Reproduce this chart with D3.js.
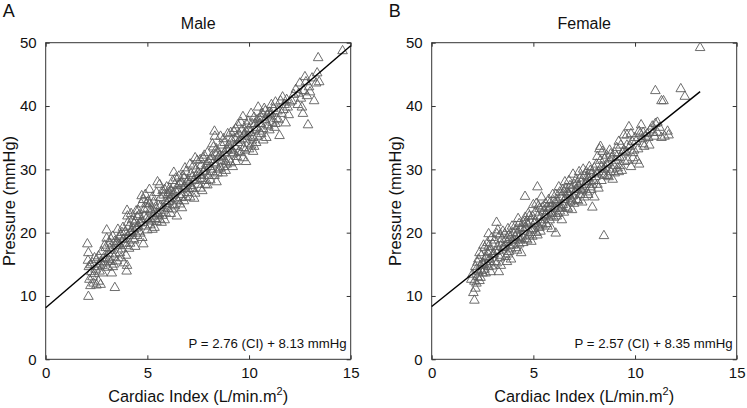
<!DOCTYPE html>
<html><head><meta charset="utf-8">
<script src="https://cdn.jsdelivr.net/npm/d3@7"></script>
<style>
html,body{margin:0;padding:0;background:#fff;}
svg text{font-family:"Liberation Sans",Arial,Helvetica,sans-serif;fill:#111;}
</style></head>
<body>
<svg id="chart" width="747" height="408"></svg>
<script>
const xTicks = [0, 5, 10, 15];
const yTicks = [0, 10, 20, 30, 40, 50];
const panelLetters = ["A", "B"];
const panelTitles = ["Male", "Female"];
const xTitle = "Cardiac Index (L/min.m";
const yTitle = "Pressure (mmHg)";
const equations = ["P = 2.76 (CI) + 8.13 mmHg", "P = 2.57 (CI) + 8.35 mmHg"];
const slopes = [2.76, 2.57];
const intercepts = [8.13, 8.35];
const lineXRange = [[0, 15], [0, 13.2]];

const malePoints = [
[2.05,18.2],[2.1,16.8],[2.08,15.6],[2.12,14.6],[2.15,12.6],[2.2,11.6],[2.1,9.9],[2.25,13.8],[2.3,15.2],[2.35,12.0],[2.4,16.0],[2.45,14.2],[2.5,11.7],[2.3,13.0],[2.2,14.9],[2.4,13.5],[2.5,15.7],
[2.55,14.6],[2.6,16.3],[2.65,13.9],[2.7,15.4],[2.75,17.0],[2.8,14.8],[2.85,16.0],[2.9,15.2],[2.95,17.6],[3.0,20.4],[3.0,19.1],[2.6,12.3],[2.7,11.8],[2.8,13.6],[2.9,18.0],[3.05,14.5],[2.95,15.9],[2.65,15.0],
[3.1,16.7],[3.15,18.3],[3.2,15.4],[3.25,17.2],[3.3,19.4],[3.35,16.1],[3.4,11.3],[3.45,17.9],[3.5,15.5],[3.2,19.0],[3.3,14.6],[3.4,18.6],[3.15,17.5],[3.5,18.5],[3.35,15.0],[3.45,16.6],[3.25,13.6],[3.1,15.7],
[3.55,20.5],[3.6,18.2],[3.65,16.8],[3.7,19.6],[3.75,17.4],[3.8,18.9],[3.85,15.2],[3.9,20.1],[3.95,17.9],[4.0,23.5],[4.02,22.6],[3.98,13.9],[4.0,14.8],[3.6,19.3],[3.7,16.0],[3.8,20.8],[3.9,18.3],[3.65,18.0],[3.75,20.0],[3.85,19.0],[3.95,16.4],
[4.05,19.5],[4.1,21.0],[4.15,18.3],[4.2,20.2],[4.25,22.0],[4.3,19.0],[4.35,21.4],[4.4,17.8],[4.45,20.7],[4.5,22.5],[4.1,17.5],[4.2,23.0],[4.3,20.6],[4.4,21.8],[4.5,19.5],[4.15,20.0],[4.35,18.8],[4.45,23.4],[4.25,19.8],[4.05,21.6],
[4.55,21.0],[4.6,22.8],[4.65,19.9],[4.7,24.5],[4.75,21.6],[4.8,18.2],[4.85,23.6],[4.9,26.0],[4.95,22.2],[5.0,20.4],[4.6,20.2],[4.7,22.0],[4.8,25.2],[4.9,21.0],[5.0,23.8],[4.55,23.5],[4.65,21.5],[4.75,19.2],[4.85,22.6],[4.95,24.6],[4.72,25.8],
[5.05,22.0],[5.1,24.5],[5.15,21.2],[5.2,23.4],[5.25,25.6],[5.3,22.6],[5.35,20.8],[5.4,24.0],[5.45,26.3],[5.5,23.0],[5.1,26.8],[5.2,21.8],[5.3,24.8],[5.4,22.2],[5.5,28.0],[5.15,23.6],[5.25,20.5],[5.35,23.2],[5.45,21.7],[5.05,25.0],
[5.55,24.3],[5.6,22.1],[5.65,25.5],[5.7,23.5],[5.75,26.6],[5.8,24.0],[5.85,22.0],[5.9,25.0],[5.95,27.2],[6.0,23.8],[5.6,27.6],[5.7,21.6],[5.8,25.9],[5.9,23.1],[6.0,26.0],[5.65,24.2],[5.75,22.7],[5.85,26.8],[5.95,24.6],[5.55,22.9],
[6.05,24.9],[6.1,27.0],[6.15,23.0],[6.2,25.8],[6.25,28.2],[6.3,29.5],[6.35,24.2],[6.4,26.5],[6.45,22.6],[6.5,27.4],[6.1,25.4],[6.2,23.7],[6.3,26.2],[6.4,28.6],[6.5,25.0],[6.15,26.6],[6.35,27.6],[6.45,25.3],[6.25,24.4],[6.05,26.3],
[6.55,26.8],[6.6,24.5],[6.65,28.0],[6.7,26.0],[6.75,29.0],[6.8,25.0],[6.85,27.2],[6.9,29.6],[6.95,26.3],[7.0,28.3],[6.6,27.7],[6.7,23.9],[6.8,28.6],[6.9,25.6],[7.0,26.9],[6.65,25.5],[6.75,27.0],[6.85,30.2],[6.95,28.0],[6.55,28.9],
[7.05,27.8],[7.1,25.6],[7.15,29.3],[7.2,27.0],[7.25,30.5],[7.3,28.2],[7.35,26.2],[7.4,29.0],[7.45,31.4],[7.5,27.6],[7.1,30.8],[7.2,28.7],[7.3,25.4],[7.4,30.0],[7.5,29.5],[7.15,27.4],[7.35,31.8],[7.45,28.4],[7.25,26.9],
[7.55,29.2],[7.6,27.0],[7.65,30.6],[7.7,28.5],[7.75,31.8],[7.8,29.7],[7.85,27.6],[7.9,30.8],[7.95,32.6],[8.0,29.0],[7.6,31.5],[7.7,26.6],[7.8,32.2],[7.9,28.2],[8.0,31.2],[7.65,29.0],[7.85,30.2],[7.95,27.5],[7.75,29.6],
[8.05,30.4],[8.1,28.3],[8.15,32.0],[8.2,29.6],[8.25,33.5],[8.3,36.0],[8.32,35.2],[8.35,30.8],[8.4,28.0],[8.45,32.6],[8.5,30.0],[8.1,31.5],[8.2,34.0],[8.3,29.0],[8.4,33.2],[8.5,31.8],[8.15,30.0],[8.35,32.4],[8.45,29.4],[8.25,31.0],
[8.55,32.2],[8.6,30.2],[8.65,33.8],[8.7,31.4],[8.75,34.8],[8.8,32.6],[8.85,29.8],[8.9,33.2],[8.95,35.6],[9.0,31.6],[8.6,35.2],[8.7,29.4],[8.8,34.2],[8.9,30.8],[9.0,33.8],[8.65,32.0],[8.85,31.2],[8.95,33.0],[8.75,30.4],
[9.05,33.2],[9.1,31.0],[9.15,34.6],[9.2,32.4],[9.25,36.0],[9.3,33.6],[9.35,31.2],[9.4,35.0],[9.45,37.0],[9.5,32.8],[9.1,35.8],[9.2,30.4],[9.3,34.8],[9.4,32.0],[9.5,35.6],[9.15,33.0],[9.35,36.4],[9.45,34.2],[9.25,32.6],
[9.55,34.6],[9.6,32.6],[9.65,36.2],[9.7,38.3],[9.75,33.4],[9.8,35.6],[9.85,31.2],[9.9,37.0],[9.95,34.0],[10.0,36.4],[9.6,37.4],[9.7,31.8],[9.8,33.0],[9.9,35.2],[10.0,33.2],[9.65,34.8],[9.85,36.0],[9.95,37.6],[9.75,35.4],
[10.05,35.8],[10.1,33.8],[10.15,37.2],[10.2,35.0],[10.25,38.2],[10.3,36.2],[10.35,34.2],[10.4,37.8],[10.45,39.8],[10.5,36.0],[10.1,38.8],[10.2,32.8],[10.3,37.2],[10.4,35.2],[10.5,38.0],[10.15,34.6],[10.35,36.6],[10.25,33.6],
[10.55,37.2],[10.6,35.6],[10.65,38.8],[10.7,36.4],[10.75,39.6],[10.8,37.8],[10.85,35.0],[10.9,38.6],[10.95,36.8],[11.0,39.0],[10.6,38.2],[10.7,34.6],[10.8,39.2],[10.9,37.0],[11.0,36.2],
[11.05,38.4],[11.1,40.2],[11.15,37.4],[11.2,39.6],[11.25,36.6],[11.3,40.6],[11.35,38.0],[11.4,39.2],[11.5,35.3],[11.45,37.8],[11.1,38.8],[11.3,37.2],
[11.55,40.8],[11.6,38.8],[11.65,41.4],[11.7,39.4],[11.75,40.2],[11.8,37.3],[11.85,41.0],[11.9,39.8],[11.95,38.6],[12.0,40.6],
[12.2,41.8],[12.3,42.6],[12.4,40.2],[12.5,43.6],[12.55,41.2],[12.6,39.8],[12.65,38.8],[12.7,42.4],[12.75,44.6],[12.8,43.8],[12.85,41.6],[12.9,37.0],[12.95,43.0],[13.0,42.2],[13.1,44.4],[13.2,40.8],[13.3,43.6],[13.35,45.2],[13.4,47.6],[13.45,43.8],[12.45,42.0],[12.1,40.8],
[14.6,48.7]
];

const femalePoints = [
[1.95,12.6],[2.0,13.4],[2.05,10.5],[2.1,9.3],[2.15,11.2],[2.1,12.3],[2.2,14.2],[2.25,13.0],[2.3,15.8],[2.35,12.4],[2.4,14.8],[2.45,16.4],[2.5,13.6],[2.2,12.0],[2.3,13.8],[2.4,12.9],[2.5,15.2],[2.15,14.6],[2.35,16.8],[2.45,14.0],[2.25,15.3],
[2.55,15.0],[2.6,17.6],[2.65,13.6],[2.7,16.2],[2.75,18.4],[2.8,14.6],[2.85,17.0],[2.9,15.4],[2.95,19.2],[3.0,16.6],[2.6,14.2],[2.7,15.0],[2.8,17.8],[2.9,13.8],[3.0,18.2],[2.65,16.0],[2.85,15.8],[2.95,14.7],[2.75,16.8],[2.55,18.0],[2.8,19.8],
[3.05,16.6],[3.1,18.8],[3.19,21.6],[3.2,15.2],[3.25,17.8],[3.3,13.8],[3.35,19.6],[3.4,16.4],[3.45,18.2],[3.5,20.2],[3.1,15.4],[3.2,19.8],[3.3,17.2],[3.4,14.8],[3.5,17.6],[3.15,17.0],[3.35,16.0],[3.45,19.0],[3.25,20.4],
[3.55,17.6],[3.6,19.8],[3.65,16.2],[3.7,18.4],[3.75,20.6],[3.8,17.0],[3.85,19.2],[3.9,15.8],[3.95,18.8],[4.0,20.0],[3.6,17.8],[3.7,15.4],[3.8,19.6],[3.9,17.4],[4.0,18.0],[3.65,18.9],[3.85,18.0],[3.75,16.6],[3.95,21.0],
[4.05,18.8],[4.1,21.0],[4.15,17.6],[4.2,19.8],[4.25,22.2],[4.3,18.2],[4.35,20.6],[4.4,16.8],[4.45,19.4],[4.5,21.6],[4.1,19.4],[4.2,17.2],[4.3,21.4],[4.4,19.0],[4.5,18.4],[4.15,20.4],[4.35,18.8],[4.45,20.8],[4.25,19.2],
[4.55,20.2],[4.59,25.7],[4.6,22.4],[4.65,19.0],[4.7,21.4],[4.75,23.0],[4.8,19.6],[4.85,21.8],[4.9,18.6],[4.95,22.6],[5.0,20.6],[4.6,20.8],[4.7,18.8],[4.8,22.6],[4.9,20.4],[5.0,24.4],[4.65,21.6],[4.85,20.0],[4.75,21.2],[4.95,19.4],
[5.05,21.4],[5.1,23.2],[5.15,20.0],[5.2,27.2],[5.22,22.6],[5.25,24.2],[5.3,20.8],[5.35,22.4],[5.4,25.6],[5.45,21.2],[5.5,23.4],[5.1,21.8],[5.2,19.6],[5.3,23.8],[5.4,21.6],[5.5,22.0],[5.15,24.6],[5.35,20.2],[5.45,24.0],[5.25,21.0],
[5.55,22.6],[5.6,24.6],[5.65,21.4],[5.7,23.4],[5.75,25.2],[5.8,22.0],[5.85,24.0],[5.9,20.6],[5.95,23.2],[6.0,25.0],[5.6,22.8],[5.7,21.0],[5.8,24.6],[5.9,23.0],[6.0,22.4],[5.65,24.0],[5.85,22.6],[5.75,23.8],[5.95,26.0],[6.1,19.9],
[6.05,23.8],[6.1,26.0],[6.15,22.6],[6.2,24.8],[6.25,27.2],[6.3,23.4],[6.35,25.6],[6.4,22.0],[6.45,24.4],[6.5,26.4],[6.1,24.6],[6.2,23.0],[6.3,26.4],[6.4,24.0],[6.5,23.2],[6.15,25.2],[6.35,23.8],[6.45,26.8],[6.25,24.2],[6.55,28.0],
[6.55,25.2],[6.6,27.0],[6.65,24.0],[6.7,26.2],[6.75,28.2],[6.8,24.8],[6.85,26.8],[6.9,23.6],[6.95,25.8],[7.0,27.6],[6.6,25.6],[6.7,23.8],[6.8,27.4],[6.9,25.0],[7.0,24.6],[6.65,26.4],[6.85,25.4],[6.75,26.0],[6.95,29.2],
[7.05,26.4],[7.1,28.4],[7.15,25.2],[7.2,27.4],[7.25,29.6],[7.3,26.0],[7.35,28.0],[7.4,24.8],[7.45,27.0],[7.5,29.0],[7.1,26.8],[7.2,25.0],[7.3,28.6],[7.4,26.6],[7.5,25.6],[7.15,27.8],[7.35,26.8],[7.45,30.0],[7.25,27.2],
[7.55,27.6],[7.6,29.6],[7.65,26.4],[7.7,28.6],[7.75,30.4],[7.8,27.2],[7.85,29.2],[7.9,24.0],[7.95,28.2],[8.0,30.2],[7.6,28.0],[7.7,26.0],[7.8,29.8],[7.9,27.6],[8.0,25.6],[7.65,28.8],[7.85,26.8],[7.75,28.0],
[8.05,28.8],[8.1,30.8],[8.15,27.6],[8.2,29.6],[8.25,33.2],[8.3,33.6],[8.35,28.2],[8.4,32.8],[8.45,30.0],[8.47,19.5],[8.5,29.0],[8.1,29.4],[8.2,27.0],[8.3,31.4],[8.4,29.2],[8.5,31.6],[8.15,32.0],[8.35,30.4],
[8.55,30.2],[8.6,32.2],[8.65,29.0],[8.7,31.0],[8.75,33.0],[8.8,29.6],[8.85,31.8],[8.9,28.4],[8.95,30.6],[9.0,32.6],[8.6,30.8],[8.7,28.8],[8.8,32.4],[8.9,30.0],[9.0,29.4],
[9.05,31.4],[9.1,33.4],[9.15,30.2],[9.2,34.4],[9.25,31.8],[9.3,33.8],[9.35,29.8],[9.4,32.6],[9.45,35.4],[9.5,31.2],[9.1,32.0],[9.3,30.6],[9.45,33.0],[9.2,29.6],
[9.55,32.8],[9.6,35.4],[9.65,31.4],[9.7,36.7],[9.75,33.6],[9.8,30.4],[9.85,34.4],[9.9,31.8],[9.95,33.0],[10.0,35.0],[9.6,33.8],[9.8,35.6],[9.9,32.6],
[10.05,34.4],[10.1,31.4],[10.15,33.2],[10.2,30.8],[10.25,35.6],[10.3,37.0],[10.35,34.8],[10.4,35.8],[10.45,33.6],[10.5,35.2],[10.2,36.0],[10.4,34.0],
[10.6,35.6],[10.7,33.8],[10.75,36.2],[10.85,36.8],[10.9,35.8],[11.0,37.2],[11.0,42.4],[10.95,35.2],[10.65,35.0],
[11.1,35.8],[11.2,36.6],[11.3,40.8],[11.4,40.8],[11.45,35.2],[11.6,36.0],[11.65,35.4],[11.1,37.4],[11.3,35.0],
[12.25,42.7],[12.45,41.5],[13.2,49.2]
];

const datasets = [malePoints, femalePoints];
const plotLefts = [45.7, 431.7];
const plotTop = 42.7, plotH = 316.6, plotW = 305;

const svg = d3.select("#chart");
const axisColor = "#333";

datasets.forEach((pts, i) => {
  const L = plotLefts[i];
  const x = d3.scaleLinear().domain([0, 15]).range([L, L + plotW]);
  const y = d3.scaleLinear().domain([0, 50]).range([plotTop + plotH, plotTop]);
  const g = svg.append("g");

  g.append("text").attr("x", L - 43).attr("y", 16.5)
    .attr("font-size", 18).text(panelLetters[i]);
  g.append("text").attr("x", L + plotW / 2).attr("y", 29)
    .attr("text-anchor", "middle").attr("font-size", 16).text(panelTitles[i]);

  g.append("rect").attr("x", L).attr("y", plotTop).attr("width", plotW).attr("height", plotH)
    .attr("fill", "none").attr("stroke", axisColor).attr("stroke-width", 1);

  const ax = g.append("g").attr("transform", `translate(0,${plotTop + plotH})`)
    .call(d3.axisBottom(x).tickValues(xTicks).tickFormat(d3.format("d")).tickSizeInner(-4).tickSizeOuter(0).tickPadding(8));
  const axT = g.append("g").attr("transform", `translate(0,${plotTop})`)
    .call(d3.axisTop(x).tickValues(xTicks).tickFormat("").tickSizeInner(-4).tickSizeOuter(0));
  const ay = g.append("g").attr("transform", `translate(${L},0)`)
    .call(d3.axisLeft(y).tickValues(yTicks).tickFormat(d3.format("d")).tickSizeInner(-4).tickSizeOuter(0).tickPadding(9));
  const ayR = g.append("g").attr("transform", `translate(${L + plotW},0)`)
    .call(d3.axisRight(y).tickValues(yTicks).tickFormat("").tickSizeInner(-4).tickSizeOuter(0));
  [ax, axT, ay, ayR].forEach(a => {
    a.select(".domain").remove();
    a.selectAll(".tick line").attr("stroke", axisColor);
    a.selectAll(".tick text").attr("font-size", 15).attr("fill", "#111")
      .attr("font-family", '"Liberation Sans",Arial,sans-serif');
  });
  ax.selectAll(".tick text").attr("dy", "0.71em");

  const sym = d3.symbol().type(d3.symbolTriangle).size(40);
  g.append("g").selectAll("path").data(pts).join("path")
    .attr("d", sym)
    .attr("transform", d => `translate(${x(d[0])},${y(d[1])})`)
    .attr("fill", "none").attr("stroke", "#5e5e5e").attr("stroke-width", 0.9);

  const lx = lineXRange[i];
  g.append("line")
    .attr("x1", x(lx[0])).attr("y1", y(intercepts[i] + slopes[i] * lx[0]))
    .attr("x2", x(lx[1])).attr("y2", y(intercepts[i] + slopes[i] * lx[1]))
    .attr("stroke", "#000").attr("stroke-width", 1.4);

  g.append("text").attr("x", L + plotW - 4).attr("y", plotTop + plotH - 11)
    .attr("text-anchor", "end").attr("font-size", 13.2).text(equations[i]);

  const xt = g.append("text").attr("x", L + plotW / 2).attr("y", 402)
    .attr("text-anchor", "middle").attr("font-size", 16.3);
  xt.append("tspan").text(xTitle);
  xt.append("tspan").attr("font-size", 11).attr("dy", -7).text("2");
  xt.append("tspan").attr("dy", 7).text(")");

  g.append("text")
    .attr("transform", `translate(${L - 31},${plotTop + plotH / 2}) rotate(-90)`)
    .attr("text-anchor", "middle").attr("font-size", 16.5).text(yTitle);
});
</script>
</body></html>
